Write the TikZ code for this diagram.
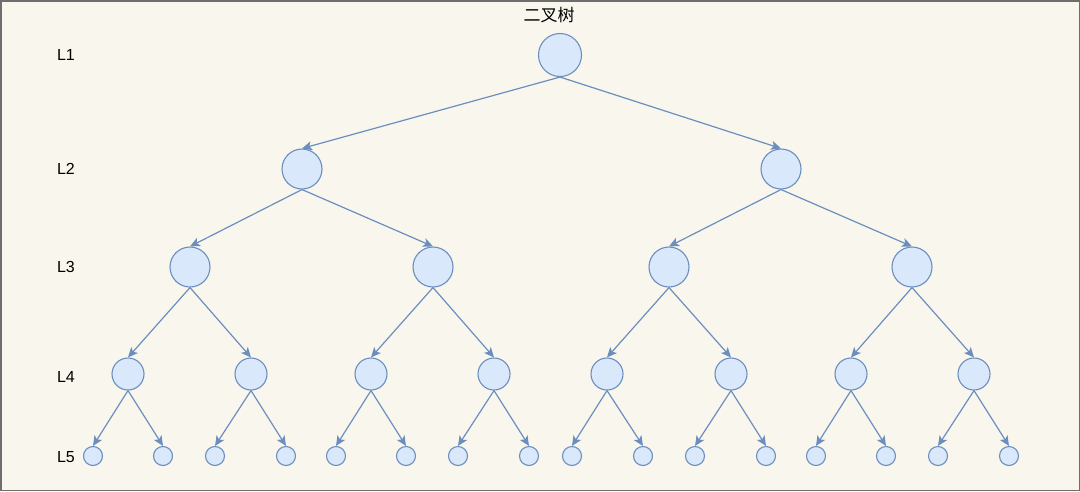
\documentclass[tikz,border=0pt]{standalone}
\usepackage{fontspec}
\setmainfont{Liberation Sans}
\newfontfamily\cjk{Noto Sans CJK SC}
\usetikzlibrary{arrows.meta}
\definecolor{paper}{HTML}{F9F7ED}
\definecolor{frame}{HTML}{6E6E6E}
\definecolor{nodefill}{HTML}{DAE8FC}
\definecolor{nodeline}{HTML}{6C8EBF}

\tikzset{
	every tnode/.style={circle, draw=nodeline, fill=nodefill, line width=1.1pt, inner sep=0pt},
	every level/.style={font=\fontsize{16}{16}\selectfont},
	every edge/.style={-{Stealth[length=10pt, width=9pt, inset=2.5pt]}, draw=nodeline, line width=1.2pt},
}

\begin{document}
\begin{tikzpicture}[x=1pt, y=-1pt]
		\draw [fill=paper, draw=frame, line width=1.5pt] (0.75,0.75) rectangle (1079.25,490.25);
		\useasboundingbox (0,0) rectangle (1080,491);
		\node [font=\cjk\fontsize{17}{17}\selectfont] (title) at (549,15) {二叉树};
		% level labels
		\foreach \y [count=\i] in {55,169,267,377,457} {
			\node [every level/.try] (lbl-\i) at (66,\y) {L\i};
		};
		% nodes
		\node [every tnode/.try, minimum size=43pt] (n1-1) at (560,55) {};
		\foreach \x [count=\i] in {302,781} {
			\node [every tnode/.try, minimum size=40pt] (n2-\i) at (\x,169) {};
		};
		\foreach \x [count=\i] in {190,433,669,912} {
			\node [every tnode/.try, minimum size=40pt] (n3-\i) at (\x,267) {};
		};
		\foreach \x [count=\i] in {128,251,371,494,607,731,851,974} {
			\node [every tnode/.try, minimum size=32pt] (n4-\i) at (\x,374) {};
		};
		\foreach \x [count=\i] in {93,163,215,286,336,406,458,529,572,643,695,766,816,886,938,1009} {
			\node [every tnode/.try, minimum size=19pt] (n5-\i) at (\x,456) {};
		};
		% edges
		\foreach \l/\n in {1/1,2/2,3/4,4/8} {
			\pgfmathtruncatemacro{\k}{\l+1}
			\foreach \i in {1,...,\n} {
				\pgfmathtruncatemacro{\a}{2*\i-1}
				\pgfmathtruncatemacro{\b}{2*\i}
				\draw [every edge/.try] (n\l-\i.south) -- (n\k-\a.north);
				\draw [every edge/.try] (n\l-\i.south) -- (n\k-\b.north);
			};
		};
	\end{tikzpicture}
\end{document}
